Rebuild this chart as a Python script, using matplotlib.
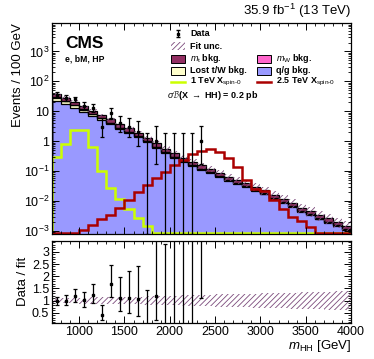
import numpy as np
import matplotlib
matplotlib.use("Agg")
import matplotlib.pyplot as plt
from matplotlib.patches import Rectangle
from matplotlib.lines import Line2D
from matplotlib.ticker import MultipleLocator, LogLocator, NullFormatter

plt.rcParams["font.family"] = ["Liberation Sans", "DejaVu Sans"]
plt.rcParams["mathtext.fontset"] = "custom"
plt.rcParams["mathtext.rm"] = "Liberation Sans"
plt.rcParams["mathtext.it"] = "Liberation Sans:italic"
plt.rcParams["mathtext.bf"] = "Liberation Sans:bold"
plt.rcParams["hatch.linewidth"] = 0.6

# binning: 100 GeV bins from 700 to 4000
edges = np.arange(700, 4001, 100)

# background components (events / 100 GeV)
qg_bkg = [22.8, 17.6, 13.3, 9.5, 6.9, 4.92, 3.62, 2.48, 1.87, 1.35, 0.944, 0.612,
          0.404, 0.283, 0.199, 0.145, 0.112, 0.087, 0.0644, 0.0471, 0.0362, 0.029,
          0.0217, 0.0166, 0.0117, 0.0087, 0.0061, 0.0044, 0.0033, 0.0024, 0.0019,
          0.00145, 0.00109]
lost_tw_bkg = [6.0, 4.2, 2.9, 1.9, 1.26, 0.82, 0.54, 0.33, 0.215, 0.134, 0.079, 0.043,
               0.028, 0.0195, 0.0138, 0.010, 0.0078, 0.006, 0.0045, 0.0033, 0.0025, 0.002,
               0.0015, 0.00115, 0.0008, 0.0006, 0.00043, 0.0003, 0.00023, 0.00017, 0.00013,
               0.0001, 0.000075]
mw_bkg = [0.2, 0.15, 0.1, 0.08, 0.06, 0.04, 0.03, 0.02, 0.015, 0.01, 0.007, 0.005,
          0.003, 0.002, 0.0015, 0.001, 0.0008, 0.0006, 0.0005, 0.0003, 0.00025, 0.0002,
          0.00015, 0.00012, 0.00008, 0.00006, 0.00004, 0.00003, 0.00002, 0.00002, 0.00001,
          0.00001, 0.00001]
mt_bkg = [8.2, 6.2, 4.6, 3.3, 2.3, 1.63, 1.18, 0.80, 0.59, 0.42, 0.29, 0.19,
          0.125, 0.086, 0.061, 0.044, 0.034, 0.026, 0.0196, 0.0143, 0.011, 0.0088,
          0.0066, 0.0051, 0.0036, 0.0026, 0.0019, 0.0013, 0.001, 0.00073, 0.00057,
          0.00044, 0.00033]

# relative fit uncertainty per bin
fit_unc = [0.11, 0.115, 0.12, 0.125, 0.13, 0.135, 0.14, 0.15, 0.155, 0.16, 0.17, 0.18,
           0.19, 0.20, 0.21, 0.22, 0.23, 0.24, 0.25, 0.26, 0.27, 0.28, 0.29, 0.30,
           0.31, 0.32, 0.33, 0.34, 0.35, 0.36, 0.37, 0.38, 0.39]

# signals
sig_1tev = [0.30, 0.83, 2.3, 2.4, 0.64, 0.098, 0.027, 0.0112, 0.0053, 0.0027, 0.0015,
            0, 0, 0, 0, 0, 0, 0, 0, 0, 0, 0, 0, 0, 0, 0, 0, 0, 0, 0, 0, 0, 0]
sig_2p5tev = [0, 0, 0, 0.0011, 0.0016, 0.0024, 0.0035, 0.006, 0.0105, 0.020, 0.033,
              0.060, 0.093, 0.156, 0.23, 0.36, 0.47, 0.54, 0.42, 0.28, 0.137, 0.052,
              0.026, 0.021, 0.0105, 0.0055, 0.0029, 0.0022, 0.0013, 0, 0, 0, 0]

# observed counts (drawn up to 2400 GeV)
data_counts = [36, 28, 25, 15, 13, 3, 9, 4, 3, 2, 0, 1, 0, 0, 0, 0, 1]

ymin, ymax = 7.8e-4, 9e3

c1 = np.array(qg_bkg)
c2 = c1 + np.array(lost_tw_bkg)
c3 = c2 + np.array(mw_bkg)
total = c3 + np.array(mt_bkg)
unc = np.array(fit_unc)

fig = plt.figure(figsize=(3.74, 3.59), dpi=100)
ax = fig.add_axes([0.139, 0.348, 0.7995, 0.588])
rax = fig.add_axes([0.139, 0.101, 0.7995, 0.228])

# stacked backgrounds
ax.stairs(c1, edges, baseline=1e-6, fill=True, color="#9999ff", lw=0)
ax.stairs(c2, edges, baseline=c1, fill=True, color="#ffffcc", lw=0)
ax.stairs(c3, edges, baseline=c2, fill=True, color="#ff66cc", lw=0)
ax.stairs(total, edges, baseline=c3, fill=True, color="#922f62", lw=0)
for c in [c1, c2, c3, total]:
    ax.stairs(c, edges, color="black", lw=0.9)

# fit uncertainty band
ax.stairs(total * (1 + unc), edges, baseline=total * (1 - unc), fill=True,
          facecolor="none", edgecolor="#7b4a7b", hatch="//////", lw=0)

# signals (empty bins shown on the axis floor)
s1 = np.maximum(np.array(sig_1tev, dtype=float), ymin * 1.08)
s2 = np.maximum(np.array(sig_2p5tev, dtype=float), ymin * 1.08)
ax.stairs(s1, edges, color="#ccff00", lw=1.8)
ax.stairs(s2, edges, color="#aa0000", lw=1.8)

# data with Poisson intervals (Gehrels approximation)
n = np.array(data_counts, dtype=float)
centers = 0.5 * (edges[:-1] + edges[1:])[:len(n)]
up = n + np.sqrt(n + 0.75) + 1.0
nn = np.maximum(n, 1)
lo = np.where(n > 0, n * (1 - 1 / (9 * nn) - 1 / (3 * np.sqrt(nn))) ** 3, 0)
nz = n > 0
ax.errorbar(centers[nz], n[nz], yerr=[n[nz] - lo[nz], up[nz] - n[nz]], fmt="s", ms=2,
            color="black", lw=0.9, capsize=1.5, capthick=0.9)
ax.errorbar(centers[~nz], up[~nz], yerr=[up[~nz] - ymin, np.zeros((~nz).sum())], fmt="none",
            color="black", lw=0.9, capsize=1.5, capthick=0.9)

ax.set_yscale("log")
ax.set_xlim(700, 4000)
ax.set_ylim(ymin, ymax)
ax.set_ylabel("Events / 100 GeV", fontsize=9.5, loc="top", labelpad=0)
ax.tick_params(labelbottom=False)

# ratio panel
tot_d = total[:len(n)]
rax.stairs(1 + unc, edges, baseline=1 - unc, fill=True, facecolor="none",
           edgecolor="#7b4a7b", hatch="//////", lw=0)
rax.errorbar(centers[nz], n[nz] / tot_d[nz],
             yerr=[(n[nz] - lo[nz]) / tot_d[nz], (up[nz] - n[nz]) / tot_d[nz]],
             fmt="s", ms=2, color="black", lw=0.9, capsize=1.5, capthick=0.9)
rax.errorbar(centers[~nz], up[~nz] / tot_d[~nz], yerr=[up[~nz] / tot_d[~nz], np.zeros((~nz).sum())],
             fmt="none", color="black", lw=0.9, capsize=1.5, capthick=0.9)
rax.set_xlim(700, 4000)
rax.set_ylim(0.09, 3.45)
rax.set_yticks([0.5, 1, 1.5, 2, 2.5, 3])
rax.set_yticklabels(["0.5", "1", "1.5", "2", "2.5", "3"])
rax.yaxis.set_minor_locator(MultipleLocator(0.1))
rax.set_ylabel("Data / fit", fontsize=9.5, labelpad=2)
rax.set_xlabel(r"$m_{\mathrm{HH}}$ [GeV]", fontsize=9.5, loc="right", labelpad=0)

for a in (ax, rax):
    a.xaxis.set_major_locator(MultipleLocator(500))
    a.xaxis.set_minor_locator(MultipleLocator(100))
    a.tick_params(which="both", direction="in", top=True, right=True, labelsize=9, pad=2)
    a.tick_params(which="major", length=5, width=0.7)
    a.tick_params(which="minor", length=2.5, width=0.6)
    for s in a.spines.values():
        s.set_linewidth(0.9)
ax.yaxis.set_minor_locator(LogLocator(base=10, subs=np.arange(2, 10), numticks=20))
ax.yaxis.set_minor_formatter(NullFormatter())
ax.set_yticks([1e-3, 1e-2, 1e-1, 1, 10, 1e2, 1e3])
ax.set_yticklabels([r"$10^{-3}$", r"$10^{-2}$", r"$10^{-1}$", "1", "10", r"$10^{2}$", r"$10^{3}$"])

# header texts
fig.text(0.938, 0.945, r"35.9 fb$^{-1}$ (13 TeV)", ha="right", va="bottom", fontsize=9.5)
ax.text(0.045, 0.905, "CMS", transform=ax.transAxes, fontsize=12.5, weight="bold", va="center")
ax.text(0.045, 0.83, "e, bM, HP", transform=ax.transAxes, fontsize=6.2, weight="bold", va="center")

# manual legend, positions in figure pixels
def ax_xy(px, py):
    return (px - 52) / 299.0, (234 - py) / 211.0

fs = 6.5
def box_entry(px, py, color, label, hatch=None):
    x0, y0 = ax_xy(px, py + 4)
    w = 14 / 299.0
    h = 8 / 211.0
    if hatch:
        r = Rectangle((x0, y0), w, h, transform=ax.transAxes, facecolor="none",
                      edgecolor="#7b4a7b", hatch=hatch, lw=0, clip_on=False)
    else:
        r = Rectangle((x0, y0), w, h, transform=ax.transAxes, facecolor=color,
                      edgecolor="black", lw=0.7, clip_on=False)
    ax.add_patch(r)
    tx, ty = ax_xy(px + 19, py)
    ax.text(tx, ty, label, transform=ax.transAxes, fontsize=fs, weight="bold", va="center")

def line_entry(px, py, color, label):
    x0, y0 = ax_xy(px, py)
    x1, _ = ax_xy(px + 14, py)
    ax.add_line(Line2D([x0, x1], [y0, y0], transform=ax.transAxes, color=color, lw=1.8))
    tx, ty = ax_xy(px + 19, py)
    ax.text(tx, ty, label, transform=ax.transAxes, fontsize=fs, weight="bold", va="center")

dx, dy = ax_xy(178, 34)
ax.errorbar([dx], [dy], yerr=[[3.5 / 211.0], [3.5 / 211.0]], fmt="s", ms=2, color="black",
            lw=0.9, capsize=1.5, transform=ax.transAxes, clip_on=False)
tx, ty = ax_xy(190, 34)
ax.text(tx, ty, "Data", transform=ax.transAxes, fontsize=fs, weight="bold", va="center")
box_entry(171, 46.5, None, "Fit unc.", hatch="//////")
box_entry(171, 59, "#922f62", r"$\mathit{m}_{\mathrm{t}}$ bkg.")
box_entry(257, 59, "#ff66cc", r"$\mathit{m}_{\mathrm{W}}$ bkg.")
box_entry(171, 71, "#ffffcc", "Lost t/W bkg.")
box_entry(257, 71, "#9999ff", "q/g bkg.")
line_entry(171, 82, "#ccff00", r"1 TeV X$_{\mathrm{spin}\text{-}0}$")
line_entry(257, 82, "#aa0000", r"2.5 TeV X$_{\mathrm{spin}\text{-}0}$")
tx, ty = ax_xy(167, 95)
ax.text(tx, ty, r"$\sigma\mathcal{B}$(X $\rightarrow$ HH) = 0.2 pb", transform=ax.transAxes,
        fontsize=fs, weight="bold", va="center")

fig.savefig("out.png", dpi=100)
